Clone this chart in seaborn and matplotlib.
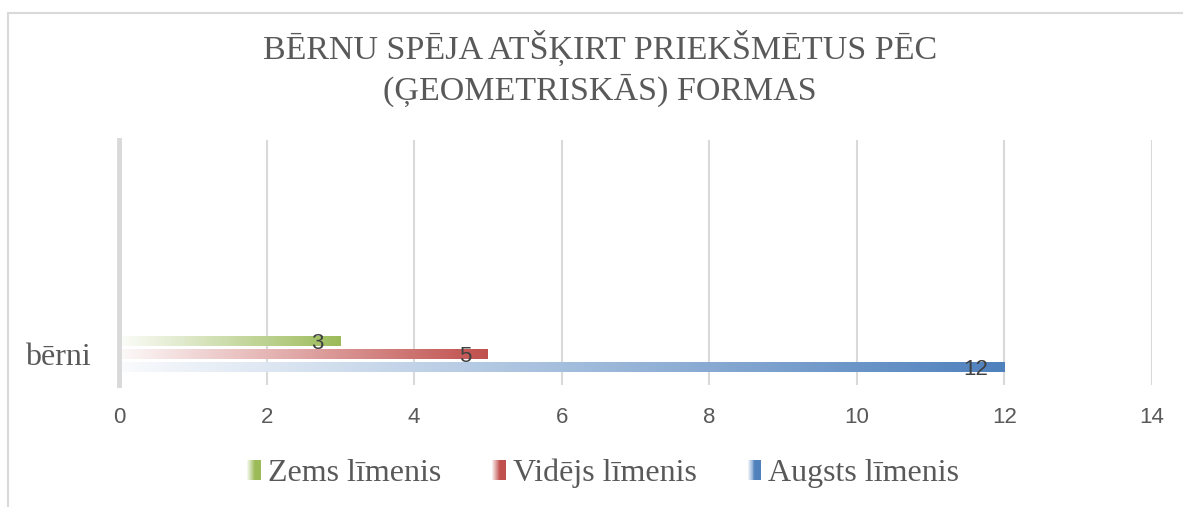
import numpy as np
import pandas as pd
import matplotlib
matplotlib.use("Agg")
import matplotlib.pyplot as plt
import matplotlib.patches as mpatches
from matplotlib.legend_handler import HandlerBase
from matplotlib.colors import to_rgb
import seaborn as sns

# data
title = "BĒRNU SPĒJA ATŠĶIRT PRIEKŠMĒTUS PĒC\n(ĢEOMETRISKĀS) FORMAS"
categories = ["bērni"]
levels = ["Zems līmenis", "Vidējs līmenis", "Augsts līmenis"]
values = [3, 5, 12]
colors = ["#9bbb59", "#c0504d", "#4f81bd"]
xticks = [0, 2, 4, 6, 8, 10, 12, 14]

df = pd.DataFrame({"grupa": categories * len(levels), "līmenis": levels, "skaits": values})

sns.set_theme(style="white")
plt.rcParams["font.family"] = ["Liberation Serif", "DejaVu Serif"]

grey = "#595959"
line_grey = "#d9d9d9"


def gradient(color, n=256):
    # white -> colour, left to right
    rgb = np.array(to_rgb(color))
    t = np.linspace(0.03, 1, n)[:, None]
    img = 1 - t * (1 - rgb)
    return img[None, :, :]


class GradientHandler(HandlerBase):
    def create_artists(self, legend, orig_handle, xdescent, ydescent,
                       width, height, fontsize, trans):
        col = np.array(to_rgb(orig_handle.get_facecolor()))
        n = 14
        arts = []
        for i in range(n):
            t = min(1.0, (i + 1) / (n * 0.6))
            c = 1 - t * (1 - col)
            r = mpatches.Rectangle((-xdescent + width * i / n, -ydescent),
                                   width / n * 1.05, height,
                                   facecolor=c, edgecolor="none", transform=trans)
            arts.append(r)
        return arts


fig = plt.figure(figsize=(11.83, 5.07), dpi=100)
ax = fig.add_axes([119 / 1183, 122 / 507, 1033 / 1183, 245 / 507])

sns.barplot(data=df, y="grupa", x="skaits", hue="līmenis", hue_order=levels,
            palette=colors, orient="h", width=0.8, gap=0.27, legend=False, ax=ax)

for cont, col in zip(ax.containers, colors):
    for bar in cont:
        x0, y0, w, h = bar.get_x(), bar.get_y(), bar.get_width(), bar.get_height()
        ax.imshow(gradient(col), extent=[x0, x0 + w, y0 + h, y0], aspect="auto",
                  interpolation="bilinear", zorder=3)
        bar.set_visible(False)
    labels = ax.bar_label(cont, padding=-12, fontsize=16, color="#404040",
                          family="Liberation Sans", zorder=4)
    for t in labels:
        t.set_ha("right")
        t.xyann = (t.xyann[0], -1.2)

ax.set_xlim(0, 14)
ax.set_ylim(0.626, -4.40)
ax.set_xticks(xticks)
ax.set_xlabel("")
ax.set_ylabel("")

ax.xaxis.grid(True, color=line_grey, lw=1.5)
ax.yaxis.grid(False)
for s in ["top", "right", "bottom"]:
    ax.spines[s].set_visible(False)
ax.spines["left"].set_color(line_grey)
ax.spines["left"].set_linewidth(3.5)
ax.spines["left"].set_zorder(5)

ax.tick_params(axis="x", length=0, pad=16, labelsize=16, labelcolor=grey)
ax.tick_params(axis="y", length=0, pad=20, labelsize=23, labelcolor=grey)
for lbl in ax.get_xticklabels():
    lbl.set_fontfamily("Liberation Sans")

fig.text(0.507, 1 - 68.5 / 507, title, ha="center", va="center",
         fontsize=24.5, color=grey, linespacing=1.3)

# chart border (top and left only visible)
fig.add_artist(plt.Line2D([8 / 1183, 1], [1 - 13 / 507] * 2, color=line_grey,
                          lw=1.5, transform=fig.transFigure))
fig.add_artist(plt.Line2D([8 / 1183] * 2, [0, 1 - 13 / 507], color=line_grey,
                          lw=1.5, transform=fig.transFigure))

handles = [mpatches.Patch(facecolor=c, label=l) for c, l in zip(colors, levels)]
fig.legend(handles=handles, loc="center", bbox_to_anchor=(0.51, 0.066), ncol=3,
           frameon=False, fontsize=23, handlelength=0.42, handleheight=0.62,
           handletextpad=0.22, columnspacing=1.6, labelcolor=grey,
           handler_map={mpatches.Patch: GradientHandler()})

fig.savefig("out.png", dpi=100)
